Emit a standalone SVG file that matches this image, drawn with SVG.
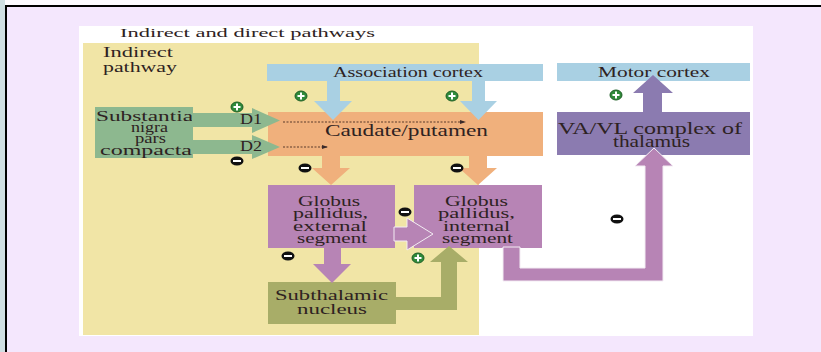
<svg xmlns="http://www.w3.org/2000/svg" width="821" height="352" viewBox="0 0 821 352">
<defs>
<style>
.t{font-family:"Liberation Serif","Times New Roman",serif;fill:#2e2222;}
.t tspan{}
.s13{font-size:13px}.s14{font-size:14px}.s15{font-size:15px}.s16{font-size:16px}
.blue{fill:#a9d0e3}.org{fill:#f0b07c}.grn{fill:#8db88f}.pur{fill:#b784b5}.olv{fill:#a8ad68}.vio{fill:#8b7bb0}
.ol{stroke:#f3ecf3;stroke-width:1}
.dot{stroke:#5a3a2a;stroke-width:1;stroke-dasharray:2 1.5;fill:none}
</style>
<marker id="ah" viewBox="0 0 6 6" refX="5" refY="3" markerWidth="6" markerHeight="6" markerUnits="userSpaceOnUse" orient="auto">
<path d="M0,1 L6,3 L0,5 Z" fill="#3a2a2a"/>
</marker>
<g id="plus">
<ellipse cx="0" cy="0" rx="6" ry="5" fill="#2f8a3a" stroke="#1d5e25" stroke-width="1"/>
<rect x="-3.5" y="-1" width="7" height="2" fill="#fff"/>
<rect x="-1" y="-3.5" width="2" height="7" fill="#fff"/>
</g>
<g id="minus">
<ellipse cx="0" cy="0" rx="6.5" ry="4.5" fill="#111"/>
<rect x="-4" y="-1" width="8" height="2" fill="#fff"/>
</g>
</defs>

<rect width="821" height="352" fill="#f4e7fd"/>
<rect x="0" y="0" width="821" height="5" fill="#fdfbff"/>
<rect x="0" y="0" width="5" height="352" fill="#cfdee2"/>
<rect x="5" y="5" width="816" height="2" fill="#000"/>
<rect x="5" y="5" width="2" height="347" fill="#000"/>

<rect x="79" y="26" width="674" height="310" fill="#ffffff"/>
<rect x="83" y="43" width="396" height="292" fill="#f1e5a6"/>

<g id="title">
<text class="t s13" x="120" y="37" textLength="255" lengthAdjust="spacingAndGlyphs" fill="#333">Indirect and direct pathways</text>
</g>
<g id="indirect-label">
<text class="t s14"><tspan x="103" y="57" textLength="70" lengthAdjust="spacingAndGlyphs">Indirect</tspan><tspan x="103" y="72" textLength="74" lengthAdjust="spacingAndGlyphs">pathway</tspan></text>
</g>

<g id="association-cortex">
<rect class="blue" x="267" y="64" width="276" height="17"/>
<text class="t s15" x="333" y="77" textLength="150" lengthAdjust="spacingAndGlyphs">Association cortex</text>
</g>
<g id="motor-cortex">
<rect class="blue" x="557" y="63" width="193" height="18"/>
<text class="t s15" x="598" y="77" textLength="112" lengthAdjust="spacingAndGlyphs">Motor cortex</text>
</g>
<g id="caudate-putamen">
<rect class="org" x="268" y="112" width="275" height="44"/>
<text class="t s16" x="325" y="136" textLength="163" lengthAdjust="spacingAndGlyphs">Caudate/putamen</text>
</g>
<g id="substantia-nigra">
<rect class="grn" x="95" y="107" width="98" height="51"/>
<text class="t s14"><tspan x="96" y="121" textLength="97" lengthAdjust="spacingAndGlyphs">Substantia</tspan><tspan x="131" y="131.5" textLength="37" lengthAdjust="spacingAndGlyphs">nigra</tspan><tspan x="135" y="142.5" textLength="31" lengthAdjust="spacingAndGlyphs">pars</tspan><tspan x="100" y="154.5" textLength="92" lengthAdjust="spacingAndGlyphs">compacta</tspan></text>
</g>
<g id="thalamus">
<rect class="vio" x="557" y="112" width="193" height="43"/>
<text class="t s16"><tspan x="558" y="134" textLength="184" lengthAdjust="spacingAndGlyphs">VA/VL complex of</tspan><tspan x="613" y="147" textLength="77" lengthAdjust="spacingAndGlyphs">thalamus</tspan></text>
</g>
<g id="gp-external">
<rect class="pur" x="268" y="185" width="127" height="63"/>
<text class="t s15"><tspan x="298" y="206" textLength="62" lengthAdjust="spacingAndGlyphs">Globus</tspan><tspan x="293" y="218" textLength="75" lengthAdjust="spacingAndGlyphs">pallidus,</tspan><tspan x="293" y="230.5" textLength="74" lengthAdjust="spacingAndGlyphs">external</tspan><tspan x="297" y="242.5" textLength="70" lengthAdjust="spacingAndGlyphs">segment</tspan></text>
</g>
<g id="gp-internal">
<rect class="pur" x="414" y="185" width="128" height="63"/>
<text class="t s15"><tspan x="445" y="206" textLength="63" lengthAdjust="spacingAndGlyphs">Globus</tspan><tspan x="438" y="218" textLength="77" lengthAdjust="spacingAndGlyphs">pallidus,</tspan><tspan x="443" y="230.5" textLength="67" lengthAdjust="spacingAndGlyphs">internal</tspan><tspan x="442" y="242.5" textLength="71" lengthAdjust="spacingAndGlyphs">segment</tspan></text>
</g>
<g id="subthalamic-nucleus">
<rect class="olv" x="268" y="282" width="128" height="42"/>
<text class="t s15"><tspan x="275" y="300" textLength="113" lengthAdjust="spacingAndGlyphs">Subthalamic</tspan><tspan x="297" y="314" textLength="70" lengthAdjust="spacingAndGlyphs">nucleus</tspan></text>
</g>

<g id="connectors">
<polygon class="blue" points="327,81 340,81 340,101 352,101 333,120 314,101 327,101"/>
<polygon class="blue" points="472,81 485,81 485,101 497,101 478.5,120 460,101 472,101"/>
<polygon class="grn" points="192,113 252,113 252,108 280,120.5 252,133 252,127 192,127"/>
<polygon class="grn" points="192,140 252,140 252,135 280,147 252,159 252,154 192,154"/>
<text class="t s14" x="240" y="124" textLength="22" lengthAdjust="spacingAndGlyphs">D1</text>
<text class="t s14" x="240" y="151" textLength="22" lengthAdjust="spacingAndGlyphs">D2</text>
<line class="dot" x1="283" y1="122" x2="465" y2="122" marker-end="url(#ah)"/>
<line class="dot" x1="283" y1="147" x2="327" y2="147" marker-end="url(#ah)"/>
<polygon class="org" points="322,155 340,155 340,168 350,168 331,185 312,168 322,168"/>
<polygon class="org" points="469,155 487,155 487,168 497,168 478,185 459,168 469,168"/>
<polygon class="pur ol" points="394,227 407,227 407,218 433,234 407,250 407,241 394,241"/>
<polygon class="pur" points="324,247 341,247 341,264 351,264 332,283 313,264 324,264"/>
<polygon class="olv" points="395,297 441,297 441,262 430,262 449,246 468,262 457,262 457,310 395,310"/>
<polygon class="pur ol" points="503,247 520,247 520,268 645,268 645,166 635,166 654,148 673,166 663,166 663,281 503,281"/>
<polygon class="vio" points="643,112 662,112 662,93 673,93 653,75 633,93 643,93"/>
</g>

<g id="signs">
<use href="#plus" x="237" y="107"/>
<use href="#plus" x="301" y="96"/>
<use href="#plus" x="452" y="96"/>
<use href="#plus" x="616" y="95"/>
<use href="#plus" x="418" y="258"/>
<use href="#minus" x="237" y="161"/>
<use href="#minus" x="305" y="168"/>
<use href="#minus" x="457" y="168"/>
<use href="#minus" x="405" y="212"/>
<use href="#minus" x="617" y="219"/>
<use href="#minus" x="288" y="256"/>
</g>
</svg>
